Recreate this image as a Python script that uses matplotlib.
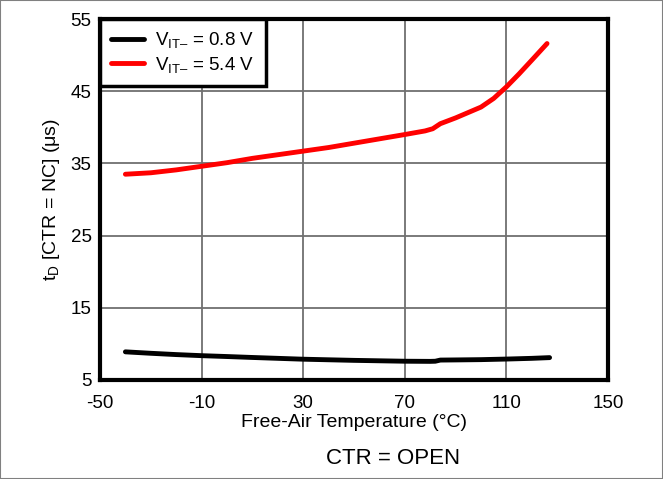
import matplotlib
matplotlib.use("Agg")
import matplotlib.pyplot as plt
from matplotlib.patches import Rectangle

plt.rcParams['font.family'] = ['Liberation Sans', 'DejaVu Sans']
plt.rcParams['mathtext.fontset'] = 'custom'
plt.rcParams['mathtext.rm'] = 'Liberation Sans'
plt.rcParams['mathtext.it'] = 'Liberation Sans'
plt.rcParams['axes.unicode_minus'] = False

# temperature (C) and delay (us)
temp_low = [-40, -30, -20, -10, 0, 10, 20, 30, 40, 50, 60, 70, 80, 82, 84, 90, 100, 110, 120, 127]
td_low = [8.9, 8.7, 8.52, 8.37, 8.25, 8.12, 8.0, 7.88, 7.8, 7.72, 7.66, 7.6, 7.58, 7.6, 7.76, 7.78, 7.82, 7.9, 8.0, 8.1]

temp_high = [-40, -30, -20, -10, 0, 10, 20, 30, 40, 50, 60, 70, 78, 81, 84, 90, 100, 105, 110, 115, 120, 126]
td_high = [33.5, 33.7, 34.1, 34.6, 35.1, 35.7, 36.2, 36.7, 37.2, 37.8, 38.4, 39.0, 39.5, 39.8, 40.5, 41.3, 42.8, 44.0, 45.6, 47.4, 49.3, 51.6]

xticks = [-50, -10, 30, 70, 110, 150]
yticks = [5, 15, 25, 35, 45, 55]

fig = plt.figure(figsize=(6.63, 4.79), dpi=100)
ax = fig.add_axes([100 / 663, 1 - 380 / 479, 508 / 663, 361 / 479])

ax.plot(temp_low, td_low, color='black', lw=3.5, solid_capstyle='round',
        label='V$_{\\mathrm{IT\u2013}}$ = 0.8 V', zorder=3)
ax.plot(temp_high, td_high, color='#ff0000', lw=3.5, solid_capstyle='round',
        label='V$_{\\mathrm{IT\u2013}}$ = 5.4 V', zorder=3)

ax.set_xlim(-50, 150)
ax.set_ylim(5, 55)
ax.set_xticks(xticks)
ax.set_yticks(yticks)
ax.tick_params(length=0, labelsize=13.5)
ax.tick_params(axis='x', pad=11)
ax.tick_params(axis='y', pad=6)
ax.grid(True, color='#707070', lw=1.3)
for s in ax.spines.values():
    s.set_linewidth(3)
    s.set_zorder(4)

ax.set_xlabel('Free-Air Temperature (°C)', fontsize=14, labelpad=1)
ax.set_ylabel(r't$_{\mathrm{D}}$ [CTR = NC] ($\mathrm{\mu}$s)', fontsize=14, labelpad=6)

leg = ax.legend(loc='upper left', fontsize=13.5, frameon=True, fancybox=False,
                framealpha=1, borderaxespad=0, handlelength=1.75,
                handletextpad=0.6, borderpad=0.6, labelspacing=0.25)
leg.get_frame().set_edgecolor('black')
leg.get_frame().set_linewidth(2.5)
leg.set_zorder(5)

fig.text(393 / 663, 1 - 458 / 479, 'CTR = OPEN', fontsize=16, ha='center', va='center')

fig.patches.append(Rectangle((0, 0), 1, 1, transform=fig.transFigure,
                             fill=False, edgecolor='#808080', lw=1.5))

fig.savefig('out.png', dpi=100)
